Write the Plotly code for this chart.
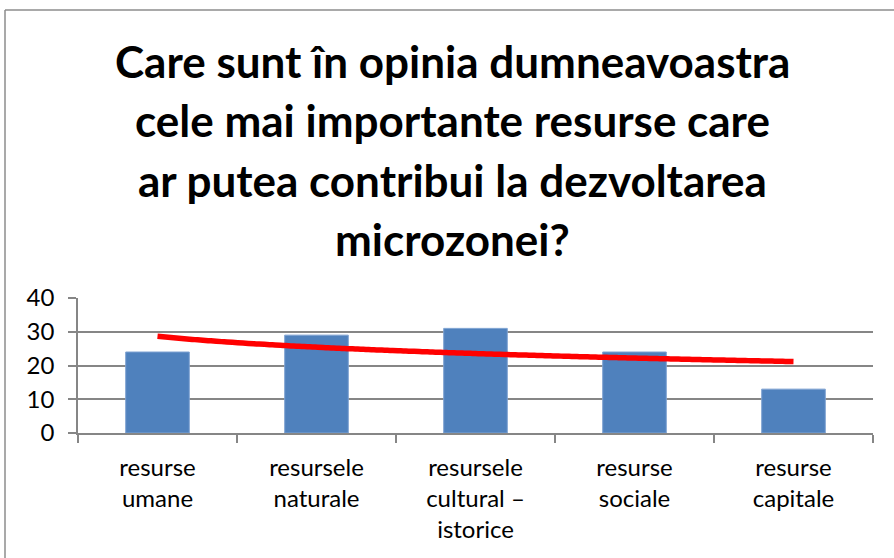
import numpy as np
import plotly.graph_objects as go

# Survey answers: most important resources for the micro-zone's development
categories = [
    "resurse<br>umane",
    "resursele<br>naturale",
    "resursele<br>cultural –<br>istorice",
    "resurse<br>sociale",
    "resurse<br>capitale",
]
values = [24, 29, 31, 24, 13]
y_ticks = [0, 10, 20, 30, 40]
title_lines = [
    "Care sunt în opinia dumneavoastra",
    "cele mai importante resurse care",
    "ar putea contribui la dezvoltarea",
    "microzonei?",
]

W, H = 894, 558
L, R, T, B = 78, 21, 298, 125

pos = np.arange(len(values))

# Logarithmic trendline (y = a + b*ln(k)), k = 1..n
k = pos + 1
b_coef, a_coef = np.polyfit(np.log(k), values, 1)
k_dense = np.linspace(1, len(values), 120)
trend = a_coef + b_coef * np.log(k_dense)

GRID = "#868686"
FONT = "Lato, Calibri, Carlito, sans-serif"

fig = go.Figure()
fig.add_trace(go.Bar(
    x=pos, y=values, width=0.4,
    marker=dict(color="#4F81BD", line=dict(color="#7EA2D2", width=1)),
    hoverinfo="y",
))
fig.add_trace(go.Scatter(
    x=k_dense - 1, y=trend, mode="lines",
    line=dict(color="#FF0000", width=5.5, shape="spline"),
    hoverinfo="skip",
))


def px_x(p):
    return (p - L) / (W - L - R)


def px_y(p):
    return (H - B - p) / (H - T - B)


annotations = []
for line, cy in zip(title_lines, [61, 120, 180, 239]):
    annotations.append(dict(
        text=line, x=px_x(452), y=px_y(cy), xref="paper", yref="paper",
        xanchor="center", yanchor="middle", showarrow=False,
        font=dict(family=FONT, size=44, color="#000000", weight="bold"),
    ))

fig.update_layout(
    width=W, height=H,
    margin=dict(l=L, r=R, t=T, b=B, pad=0),
    paper_bgcolor="white", plot_bgcolor="white",
    showlegend=False,
    bargap=0.6,
    annotations=annotations,
    shapes=[
        dict(type="line", xref="paper", yref="paper",
             x0=px_x(5), x1=px_x(W + 5), y0=px_y(10), y1=px_y(10),
             line=dict(color="#8C8C8C", width=1.5)),
        dict(type="line", xref="paper", yref="paper",
             x0=px_x(5), x1=px_x(5), y0=px_y(10), y1=px_y(H + 5),
             line=dict(color="#8C8C8C", width=1.5)),
    ],
    xaxis=dict(
        range=[-0.5, len(values) - 0.5],
        tickmode="array", tickvals=list(pos), ticktext=categories,
        ticks="", showgrid=False, zeroline=False,
        showline=True, linecolor=GRID, linewidth=1.5,
        tickfont=dict(family=FONT, size=24, color="#000000"),
        ticklabelstandoff=12,
        minor=dict(tickmode="linear", tick0=-0.5, dtick=1, ticks="outside",
                   ticklen=8, tickwidth=1.5, tickcolor=GRID, showgrid=False),
    ),
    yaxis=dict(
        range=[0, 40], tickmode="array", tickvals=y_ticks,
        ticks="outside", ticklen=8, tickwidth=1.5, tickcolor=GRID,
        showgrid=True, gridcolor=GRID, gridwidth=1.5,
        showline=True, linecolor=GRID, linewidth=1.5, zeroline=False,
        tickfont=dict(family=FONT, size=24, color="#000000"),
        ticklabelstandoff=9,
    ),
)

fig.write_html("out.html")
